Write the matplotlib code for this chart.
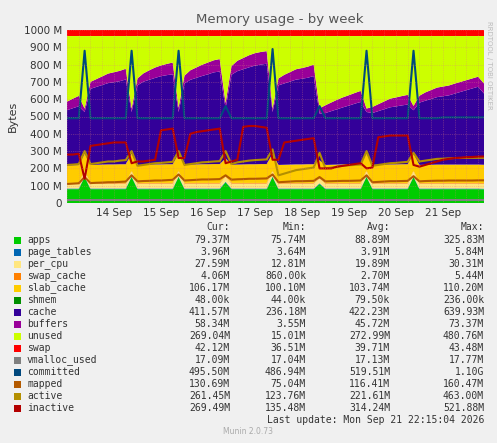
import matplotlib
matplotlib.use("Agg")
import matplotlib.pyplot as plt
import matplotlib.dates as mdates
import numpy as np
import datetime as dt

# 3-hourly samples starting 13 Sep 00:00 (72 samples)
start = dt.datetime(2026, 9, 13, 0, 0)
times = [start + dt.timedelta(hours=3 * i) for i in range(72)]

apps = [80,80,80,150,80,80,80,80, 80,80,80,150,80,80,80,80, 80,80,80,150,80,80,80,80,
        80,80,80,120,80,80,80,80, 80,80,80,150,80,80,80,80, 80,80,80,110,80,80,80,80,
        80,80,80,150,80,80,80,80, 80,80,80,150,80,80,80,80, 80,80,80,80,80,80,80,79]
page_tables = [4] * 72
per_cpu = [28] * 72
swap_cache = [4] * 72
slab_cache = [100,102,103,100,104,105,106,107, 107,108,108,100,104,105,106,107,
              107,108,108,100,105,106,107,108, 108,109,109,102,105,106,107,108,
              108,109,109,100,104,105,106,107, 107,108,108,101,104,105,106,107,
              107,108,108,100,104,105,106,107, 107,108,108,100,104,105,105,106,
              106,106,106,106,106,106,106,106]
shmem = [0.05] * 72
cache = [320,330,340,240,440,450,460,470, 475,480,490,240,460,480,490,500,
         510,515,520,240,470,490,500,510, 520,530,535,290,520,540,550,560,
         570,575,580,240,460,470,480,490, 495,500,510,270,300,310,320,330,
         340,350,360,240,300,310,320,330, 335,340,345,250,360,370,380,390,
         395,400,410,420,430,440,450,412]
buffers = [50,55,60,20,40,45,50,55, 58,60,62,20,40,48,55,60, 62,65,68,25,45,55,60,65,
           68,70,72,30,50,60,65,70, 72,73,73,20,40,50,55,60, 62,64,66,30,45,50,55,58,
           60,62,64,20,35,40,45,50, 52,54,56,25,40,48,52,55, 56,57,58,58,58,58,58,58]
swap = [40] * 72
total_ram = 965

vmalloc_used = [17] * 72
committed = [490,490,490,880,490,490,490,490, 490,490,490,880,490,490,490,490,
             490,490,490,880,490,490,490,490, 490,490,490,560,490,490,490,490,
             490,490,490,890,490,490,490,490, 490,490,490,560,490,490,490,490,
             490,490,490,880,490,490,490,490, 490,490,490,880,490,490,490,490,
             495,495,495,495,495,495,495,495]
mapped = [110,112,114,150,115,117,118,120, 120,122,124,160,125,127,128,130,
          130,132,134,165,130,132,134,136, 136,137,138,160,135,137,138,140,
          140,141,142,165,120,122,124,126, 126,127,128,150,125,126,127,128,
          128,129,130,160,120,122,124,126, 126,127,128,155,125,127,128,129,
          129,130,130,130,130,130,131,131]
active = [220,222,225,300,225,230,235,240, 240,245,248,300,215,220,225,230,
          232,235,238,300,220,225,230,235, 237,240,242,300,225,235,240,245,
          248,250,252,310,160,170,180,190, 195,200,205,290,200,205,210,215,
          218,220,222,300,215,220,225,230, 232,235,238,290,240,245,250,255,
          256,258,260,260,261,261,261,261]
inactive = [280,280,285,140,330,335,340,345, 350,350,350,230,240,240,245,250,
            420,425,430,260,260,400,410,415, 420,425,430,230,240,250,440,445,
            445,440,435,250,250,350,355,360, 365,370,375,200,200,200,210,215,
            220,225,230,200,205,380,385,390, 390,390,390,220,210,220,230,240,
            250,255,260,262,265,266,268,269]

stack_names = ["apps", "page_tables", "per_cpu", "swap_cache", "slab_cache", "shmem",
               "cache", "buffers", "unused", "swap"]
stack_colors = ["#00CC00", "#0066B3", "#FFE680", "#FF8000", "#FFCC00", "#008F00",
                "#330099", "#990099", "#CCFF00", "#FF0000"]
line_names = ["vmalloc_used", "committed", "mapped", "active", "inactive"]
line_colors = ["#808080", "#00487D", "#B35A00", "#B38F00", "#B30000"]

base = [np.array(a, float) for a in (apps, page_tables, per_cpu, swap_cache, slab_cache, shmem, cache, buffers)]
unused = total_ram - sum(base)
layers = base + [unused, np.array(swap, float)]

stats = [("79.37M", "75.74M", "88.89M", "325.83M"),
         ("3.96M", "3.64M", "3.91M", "5.84M"),
         ("27.59M", "12.81M", "19.89M", "30.31M"),
         ("4.06M", "860.00k", "2.70M", "5.44M"),
         ("106.17M", "100.10M", "103.74M", "110.20M"),
         ("48.00k", "44.00k", "79.50k", "236.00k"),
         ("411.57M", "236.18M", "422.23M", "639.93M"),
         ("58.34M", "3.55M", "45.72M", "73.37M"),
         ("269.04M", "15.01M", "272.99M", "480.76M"),
         ("42.12M", "36.51M", "39.71M", "43.48M"),
         ("17.09M", "17.04M", "17.13M", "17.77M"),
         ("495.50M", "486.94M", "519.51M", "1.10G"),
         ("130.69M", "75.04M", "116.41M", "160.47M"),
         ("261.45M", "123.76M", "221.61M", "463.00M"),
         ("269.49M", "135.48M", "314.24M", "521.88M")]

W, H = 497, 443
fig = plt.figure(figsize=(W / 100, H / 100), dpi=100, facecolor="#F0F0F0")
ax = fig.add_axes([67 / W, 1 - 203 / H, 417 / W, 173 / H])
ax.set_facecolor("white")
ax.stackplot(times, layers, colors=stack_colors, linewidth=0)
for vals, c in zip((vmalloc_used, committed, mapped, active, inactive), line_colors):
    ax.plot(times, vals, color=c, lw=1.5)
ax.set_xlim(times[0], times[-1])
ax.set_ylim(0, 1000)
ax.set_yticks(range(0, 1001, 100))
ax.set_yticklabels(["0"] + [f"{v} M" for v in range(100, 1001, 100)], fontsize=7.5, color="#333333")
ax.xaxis.set_minor_locator(mdates.HourLocator(byhour=[0, 6, 12, 18]))
ax.tick_params(axis="x", labelsize=7.5, colors="#333333", length=0, which="both")
ax.tick_params(axis="y", length=0)
days = [start + dt.timedelta(days=d) for d in range(9)]
ax.set_xticks(days)
ax.set_xticklabels(["" if d.day == 13 else d.strftime("%d %b") for d in days])
ax.grid(True, which="both", color="#E08080", linestyle=":", lw=0.5, alpha=0.6)
ax.set_axisbelow(False)
for s in ax.spines.values():
    s.set_visible(False)
ax.set_ylabel("Bytes", fontsize=8, color="#333333")

fig.text(280 / W, 1 - 19 / H, "Memory usage - by week", ha="center", va="center", fontsize=9.5, color="#555555")
fig.text(489 / W, 1 - 65 / H, "RRDTOOL / TOBI OETIKER", rotation=270, ha="center", va="center",
         fontsize=5, color="#BBBBBB")

mono = "DejaVu Sans Mono"
ytop = 227
fs = 7
for txt, xr in (("Cur:", 230), ("Min:", 306), ("Avg:", 390), ("Max:", 484)):
    fig.text(xr / W, 1 - ytop / H, txt, ha="right", va="center", fontsize=fs, family=mono, color="#333333")
names = stack_names + line_names
colors = stack_colors + line_colors
for i, (n, c, st) in enumerate(zip(names, colors, stats)):
    y = 240 + i * 12
    fig.patches.append(plt.Rectangle((14 / W, 1 - (y + 3.5) / H), 7 / W, 7 / H, transform=fig.transFigure,
                                     facecolor=c, edgecolor="none"))
    fig.text(27 / W, 1 - y / H, n, ha="left", va="center", fontsize=fs, family=mono, color="#333333")
    for v, xr in zip(st, (230, 306, 390, 484)):
        fig.text(xr / W, 1 - y / H, v, ha="right", va="center", fontsize=fs, family=mono, color="#333333")
fig.text(484 / W, 1 - 420 / H, "Last update: Mon Sep 21 22:15:04 2026", ha="right", va="center",
         fontsize=fs, family=mono, color="#333333")
fig.text(248 / W, 1 - 432 / H, "Munin 2.0.73", ha="center", va="center", fontsize=5.5, color="#AAAAAA")

fig.savefig("out.png", dpi=100, facecolor=fig.get_facecolor())
